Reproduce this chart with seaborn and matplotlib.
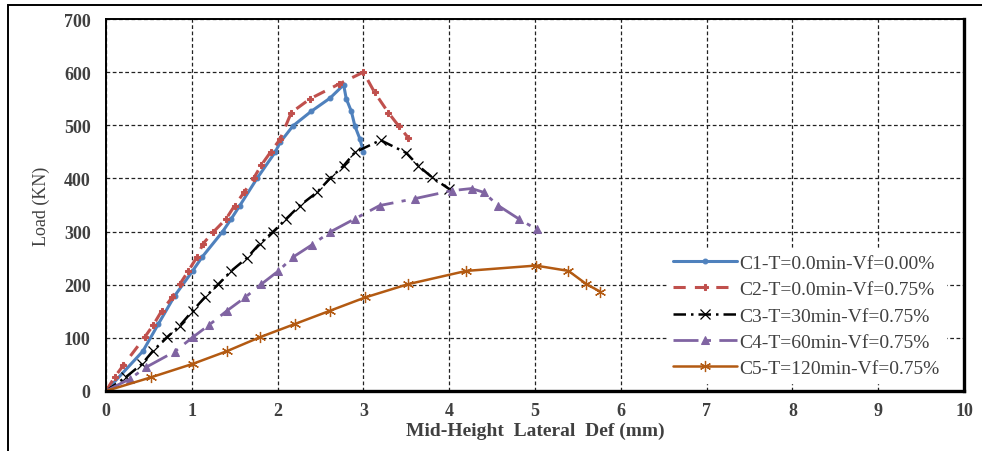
import matplotlib
matplotlib.use("Agg")
import matplotlib.pyplot as plt
import seaborn as sns
import pandas as pd
from matplotlib.patches import Rectangle

# ---------------- data ----------------
c1_x = [0, 0.43, 0.61, 0.80, 1.01, 1.12, 1.36, 1.46, 1.56, 1.76, 1.97, 2.03, 2.18, 2.39, 2.61, 2.77, 2.80, 2.86, 2.90, 2.96, 3.00]
c1_y = [0, 75, 126, 179, 226, 252, 300, 324, 349, 400, 449, 468, 499, 526, 551, 576, 550, 526, 499, 474, 450]

c2_x = [0, 0.10, 0.20, 0.45, 0.55, 0.65, 0.77, 0.86, 0.96, 1.06, 1.13, 1.25, 1.40, 1.50, 1.61, 1.72, 1.81, 1.92, 2.03, 2.16, 2.38, 2.72, 3.00, 3.13, 3.29, 3.41, 3.52]
c2_y = [0, 26, 48, 101, 124, 151, 176, 201, 226, 252, 277, 299, 324, 349, 374, 400, 425, 450, 474, 524, 550, 578, 600, 562, 524, 499, 477]

c3_x = [0, 0.23, 0.42, 0.55, 0.71, 0.86, 1.01, 1.15, 1.31, 1.46, 1.64, 1.79, 1.95, 2.10, 2.26, 2.46, 2.61, 2.77, 2.90, 3.20, 3.50, 3.64, 3.80, 4.00]
c3_y = [0, 26, 51, 76, 101, 123, 151, 176, 201, 226, 250, 277, 300, 324, 349, 374, 400, 424, 449, 472, 448, 424, 402, 380]

c4_x = [0, 0.28, 0.47, 0.80, 1.01, 1.20, 1.41, 1.62, 1.81, 2.01, 2.18, 2.40, 2.61, 2.90, 3.19, 3.60, 4.03, 4.26, 4.40, 4.57, 4.81, 5.02]
c4_y = [0, 23, 45, 74, 101, 124, 151, 176, 201, 226, 252, 275, 299, 324, 349, 362, 377, 381, 374, 349, 324, 304]

c5_x = [0, 0.53, 1.01, 1.41, 1.79, 2.20, 2.61, 3.02, 3.52, 4.20, 5.01, 5.39, 5.60, 5.76]
c5_y = [0, 26, 51, 75, 101, 126, 151, 176, 201, 226, 236, 226, 201, 187]

labels = ["C1-T=0.0min-Vf=0.00%", "C2-T=0.0min-Vf=0.75%", "C3-T=30min-Vf=0.75%",
          "C4-T=60min-Vf=0.75%", "C5-T=120min-Vf=0.75%"]
x_ticks = [0, 1, 2, 3, 4, 5, 6, 7, 8, 9, 10]
y_ticks = [0, 100, 200, 300, 400, 500, 600, 700]

# ---------------- style ----------------
sns.set_theme(style="white")
plt.rcParams["font.family"] = ["Liberation Serif", "DejaVu Serif"]

fig = plt.figure(figsize=(9.82, 4.52), dpi=100)
ax = fig.add_axes([106 / 982, 60 / 452, 858 / 982, 372 / 452])

series = [
    (c1_x, c1_y, dict(color="#4f81bd", linestyle="-", linewidth=2.2, marker="o", markersize=3.5,
                      markeredgecolor="#4f81bd")),
    (c2_x, c2_y, dict(color="#c0504d", linestyle=(0, (4, 3)), linewidth=2.2, marker="P", markersize=4.5,
                      markeredgecolor="#c0504d")),
    (c3_x, c3_y, dict(color="#000000", linestyle=(0, (5, 2, 1, 2)), linewidth=1.8, marker="x", markersize=7,
                      markeredgewidth=0.9, markeredgecolor="#000000")),
    (c4_x, c4_y, dict(color="#8064a2", linestyle=(0, (9, 3, 1.5, 3)), linewidth=2.0, marker="^", markersize=5.5,
                      markeredgecolor="#8064a2")),
    (c5_x, c5_y, dict(color="#b35a12", linestyle="-", linewidth=1.8, marker=(6, 2, 0), markersize=8,
                      markeredgewidth=0.9, markeredgecolor="#b35a12")),
]

for (xs, ys, kw), lab in zip(series, labels):
    df = pd.DataFrame({"x": xs, "y": ys})
    sns.lineplot(data=df, x="x", y="y", sort=False, ax=ax, label=lab, **kw)

ax.set_xlim(0, 10)
ax.set_ylim(0, 700)
ax.set_xticks(x_ticks)
ax.set_yticks(y_ticks)
ax.set_xticklabels([str(v) for v in x_ticks], fontsize=13, fontweight="bold", color="#404040")
ax.set_yticklabels([str(v) for v in y_ticks], fontsize=13, fontweight="bold", color="#404040")
ax.tick_params(axis="x", length=0, pad=8)
ax.tick_params(axis="y", length=0, pad=11)

ax.grid(True, color="#222222", linestyle=(0, (3, 2)), linewidth=0.9)
ax.set_axisbelow(True)
for s in ax.spines.values():
    s.set_visible(True)
    s.set_color("black")
    s.set_linewidth(1.4)
ax.spines["right"].set_linewidth(2.4)
ax.spines["bottom"].set_linewidth(2.4)

ax.set_xlabel("Mid-Height  Lateral  Def (mm)", fontsize=14, fontweight="bold", color="#404040", labelpad=2)
ax.set_ylabel("Load (KN)", fontsize=13, color="#404040", labelpad=10)

leg = ax.legend(loc="lower right", bbox_to_anchor=(0.99, -0.005), frameon=True, fontsize=14,
                handlelength=3.3, handletextpad=0.15, labelspacing=0.45, borderpad=0.3)
leg.get_frame().set_facecolor("white")
leg.get_frame().set_edgecolor("white")
leg.get_frame().set_alpha(1.0)
for t in leg.get_texts():
    t.set_color("#404040")

# outer figure border (top and left visible)
fig.add_artist(Rectangle((8 / 982, -0.2), 1.2, 1.2 - 6 / 452, transform=fig.transFigure,
                         fill=False, edgecolor="black", linewidth=1.4))

fig.savefig("out.png", dpi=100)
